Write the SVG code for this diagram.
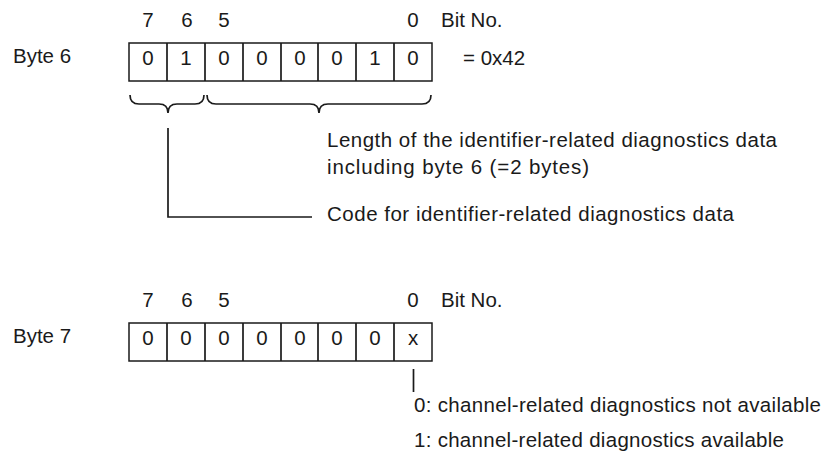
<svg xmlns="http://www.w3.org/2000/svg" width="829" height="457" viewBox="0 0 829 457">
<style>
text{font-family:"Liberation Sans",Arial,sans-serif;font-size:20.5px;fill:#1a1a1a}
.c{text-anchor:middle}
.box{fill:#fff;stroke:#1a1a1a;stroke-width:1.5}
.ln{fill:none;stroke:#1a1a1a;stroke-width:1.7}
</style>
<rect width="829" height="457" fill="#fff"/>
<g id="byte6">
<text x="13" y="63">Byte 6</text>
<text class="c" x="148" y="27">7</text>
<text class="c" x="187" y="27">6</text>
<text class="c" x="224" y="27">5</text>
<text class="c" x="413" y="27">0</text>
<text x="441" y="27">Bit No.</text>
<rect class="box" x="129" y="43" width="303" height="38"/>
<path class="ln" d="M167,43V81M205,43V81M243,43V81M281,43V81M318,43V81M356,43V81M394,43V81"/>
<text class="c" x="148" y="65">0</text>
<text class="c" x="186" y="65">1</text>
<text class="c" x="224" y="65">0</text>
<text class="c" x="262" y="65">0</text>
<text class="c" x="300" y="65">0</text>
<text class="c" x="337" y="65">0</text>
<text class="c" x="375" y="65">1</text>
<text class="c" x="413" y="65">0</text>
<text x="463" y="65">= 0x42</text>
</g>
<g id="byte6-notes">
<text x="327" y="147" textLength="450" lengthAdjust="spacing">Length of the identifier-related diagnostics data</text>
<text x="327" y="174" textLength="262" lengthAdjust="spacing">including byte 6 (=2 bytes)</text>
<text x="327" y="221" textLength="407" lengthAdjust="spacing">Code for identifier-related diagnostics data</text>
</g>
<g id="byte7">
<text x="13" y="343">Byte 7</text>
<text class="c" x="148" y="307">7</text>
<text class="c" x="187" y="307">6</text>
<text class="c" x="224" y="307">5</text>
<text class="c" x="413" y="307">0</text>
<text x="441" y="307">Bit No.</text>
<rect class="box" x="129" y="323" width="303" height="38"/>
<path class="ln" d="M167,323V361M205,323V361M243,323V361M281,323V361M318,323V361M356,323V361M394,323V361"/>
<text class="c" x="148" y="345">0</text>
<text class="c" x="186" y="345">0</text>
<text class="c" x="224" y="345">0</text>
<text class="c" x="262" y="345">0</text>
<text class="c" x="300" y="345">0</text>
<text class="c" x="337" y="345">0</text>
<text class="c" x="375" y="345">0</text>
<text class="c" x="413" y="345">x</text>
</g>
<g id="byte7-notes">
<text x="414" y="412" textLength="407" lengthAdjust="spacing">0: channel-related diagnostics not available</text>
<text x="414" y="447" textLength="370" lengthAdjust="spacing">1: channel-related diagnostics available</text>
</g>
<g id="connectors">
<path class="ln" d="M130,95Q130,104 139,104L159,104Q168,104 168,113Q168,104 177,104L195,104Q204,104 204,95"/>
<path class="ln" d="M207,95Q207,104 216,104L310,104Q319,104 319,113Q319,104 328,104L422,104Q431,104 431,95"/>
<path class="ln" d="M168,128V217H312"/>
<path class="ln" d="M413.5,369V392"/>
</g>
</svg>
